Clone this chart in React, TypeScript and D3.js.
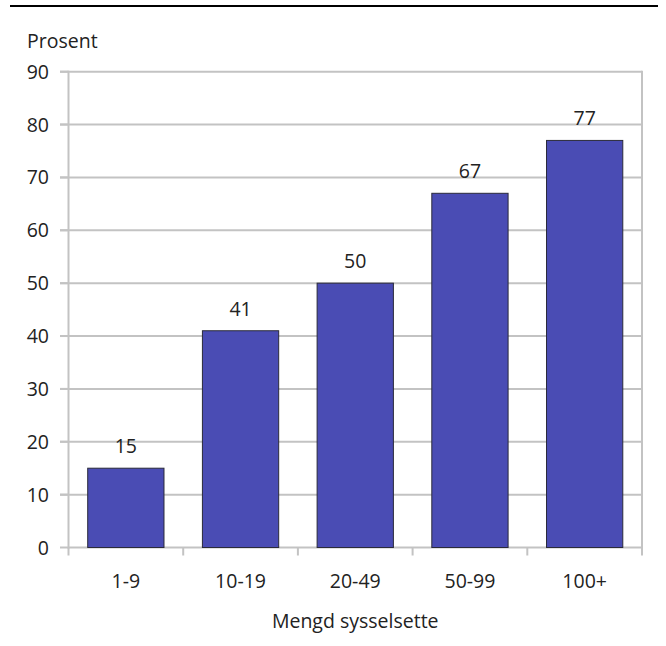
import React from "react";
import * as d3 from "d3";

const categories = ["1-9", "10-19", "20-49", "50-99", "100+"];
const values = [15, 41, 50, 67, 77];
const yTicks = [0, 10, 20, 30, 40, 50, 60, 70, 80, 90];
const yLabel = "Prosent";
const xLabel = "Mengd sysselsette";

const W = 666;
const H = 646;
const plot = { left: 68.5, right: 642, top: 71.7, bottom: 547.5 };
const FONT = "'Open Sans', 'Noto Sans', sans-serif";
const FS = 19.5;
const GRID = "#c3c3c3";

export default function App() {
  const x = d3
    .scaleBand<string>()
    .domain(categories)
    .range([plot.left, plot.right])
    .padding(0);
  const y = d3.scaleLinear().domain([0, 90]).range([plot.bottom, plot.top]);
  const barW = x.bandwidth() * 0.665;
  const boundaries = [...categories.map((c) => x(c) as number), plot.right];

  return (
    <svg
      width={W}
      height={H}
      style={{ position: "absolute", left: 0, top: 0, background: "#fff" }}
      fontFamily={FONT}
    >
      <line x1={10} x2={658} y1={6} y2={6} stroke="#000" strokeWidth={2} />
      <text x={27} y={48} fontSize={FS} fill="#222">
        {yLabel}
      </text>

      {/* gridlines with left ticks */}
      {yTicks.map((t) => (
        <g key={t}>
          <line
            x1={t === 0 ? plot.left : 60}
            x2={plot.right}
            y1={y(t)}
            y2={y(t)}
            stroke={GRID}
            strokeWidth={2}
          />
          <line x1={60} x2={plot.left} y1={y(t)} y2={y(t)} stroke={GRID} strokeWidth={2} />
          <text
            x={49}
            y={y(t)}
            dy="0.36em"
            textAnchor="end"
            fontSize={FS}
            fill="#222"
          >
            {t}
          </text>
        </g>
      ))}

      {/* frame */}
      <line x1={plot.left} x2={plot.left} y1={plot.top - 1} y2={plot.bottom + 1} stroke={GRID} strokeWidth={2} />
      <line x1={plot.right} x2={plot.right} y1={plot.top - 1} y2={plot.bottom + 1} stroke={GRID} strokeWidth={2} />

      {/* category ticks below the axis */}
      {boundaries.map((b, i) => (
        <line key={i} x1={b} x2={b} y1={plot.bottom} y2={plot.bottom + 8} stroke={GRID} strokeWidth={2} />
      ))}

      {/* bars */}
      {categories.map((c, i) => {
        const cx = (x(c) as number) + x.bandwidth() / 2;
        return (
          <g key={c}>
            <rect
              x={cx - barW / 2}
              y={y(values[i])}
              width={barW}
              height={y(0) - y(values[i])}
              fill="#4a4cb4"
              stroke="#2a2a3a"
              strokeWidth={1}
            />
            <text x={cx} y={y(values[i]) - 15} textAnchor="middle" fontSize={FS} fill="#222">
              {values[i]}
            </text>
            <text x={cx} y={plot.bottom + 40} textAnchor="middle" fontSize={FS} fill="#222">
              {c}
            </text>
          </g>
        );
      })}

      <text
        x={(plot.left + plot.right) / 2}
        y={plot.bottom + 80}
        textAnchor="middle"
        fontSize={FS}
        fill="#222"
      >
        {xLabel}
      </text>
    </svg>
  );
}
